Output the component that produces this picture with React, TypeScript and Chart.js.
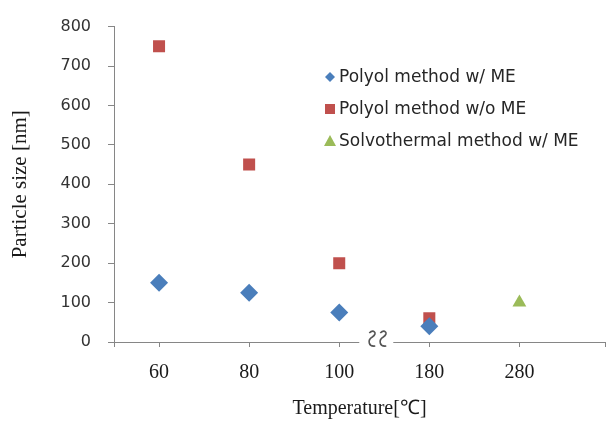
import React, { useEffect, useRef } from 'react';
import { Chart, registerables } from 'chart.js';

Chart.register(...registerables);

const categories = ['60', '80', '100', '180', '280'];
const seriesNames = ['Polyol method w/ ME', 'Polyol method w/o ME', 'Solvothermal method w/ ME'];
const polyolWithME: (number | null)[] = [150, 125, 75, 40, null];
const polyolWithoutME: (number | null)[] = [750, 450, 200, 60, null];
const solvothermalWithME: (number | null)[] = [null, null, null, null, 100];
const yMin = 0;
const yMax = 800;
const yStep = 100;

const colors = ['#4a7ebb', '#c0504d', '#9bbb59'];
const styles = ['rectRot', 'rect', 'triangle'];
const radii = [9, 8.5, 8];

const toPoints = (arr: (number | null)[]) =>
  arr.map((v, i) => (v == null ? null : { x: i, y: v })).filter(Boolean) as { x: number; y: number }[];

const breakPlugin = {
  id: 'axisBreak',
  afterDraw(chart: any) {
    const ctx = chart.ctx;
    const xs = chart.scales.x;
    const base = xs.getPixelForValue(2.5);
    const py = chart.chartArea.bottom;
    ctx.save();
    ctx.fillStyle = '#ffffff';
    ctx.fillRect(base - 25, py - 2, 34, 5);
    ctx.strokeStyle = '#555555';
    ctx.lineWidth = 1.6;
    [base - 12, base - 1].forEach((cx) => {
      ctx.beginPath();
      ctx.moveTo(cx - 3, py - 9);
      ctx.bezierCurveTo(cx + 1, py - 13, cx + 6, py - 9, cx, py - 5);
      ctx.bezierCurveTo(cx - 5, py - 2, cx - 4, py + 5, cx + 3, py + 4);
      ctx.stroke();
    });
    ctx.restore();
  },
};

const legendPlugin = {
  id: 'insideLegend',
  afterDraw(chart: any) {
    const ctx = chart.ctx;
    const rows = [77, 109, 141];
    ctx.save();
    chart.data.datasets.forEach((ds: any, i: number) => {
      const y = rows[i];
      ctx.fillStyle = ds.backgroundColor;
      ctx.beginPath();
      const mx = 330;
      if (i === 0) {
        ctx.moveTo(mx, y - 5);
        ctx.lineTo(mx + 5, y);
        ctx.lineTo(mx, y + 5);
        ctx.lineTo(mx - 5, y);
        ctx.closePath();
      } else if (i === 1) {
        ctx.rect(mx - 5, y - 5, 10, 10);
      } else {
        ctx.moveTo(mx, y - 6);
        ctx.lineTo(mx + 6, y + 5);
        ctx.lineTo(mx - 6, y + 5);
        ctx.closePath();
      }
      ctx.fill();
      ctx.fillStyle = '#262626';
      ctx.font = '17px "DejaVu Sans"';
      ctx.textBaseline = 'middle';
      ctx.textAlign = 'left';
      ctx.fillText(ds.label, 339, y + 1);
    });
    ctx.restore();
  },
};

export default function App() {
  const ref = useRef<HTMLCanvasElement>(null);
  useEffect(() => {
    const data = [polyolWithME, polyolWithoutME, solvothermalWithME];
    const chart = new Chart(ref.current as HTMLCanvasElement, {
      type: 'scatter',
      data: {
        datasets: data.map((arr, i) => ({
          label: seriesNames[i],
          data: toPoints(arr),
          backgroundColor: colors[i],
          borderColor: colors[i],
          pointStyle: styles[i] as any,
          pointRadius: radii[i],
          pointHoverRadius: radii[i],
          borderWidth: 0,
        })),
      },
      options: {
        animation: false,
        responsive: false,
        layout: { autoPadding: false, padding: { top: 19, right: 3, left: 0, bottom: 0 } },
        plugins: { legend: { display: false }, tooltip: { enabled: false } },
        scales: {
          x: {
            type: 'linear',
            min: -0.5,
            max: 4.95,
            afterBuildTicks: (scale: any) => {
              scale.ticks = [-0.5, 0, 1, 2, 3, 4, 4.95].map((v) => ({ value: v }));
            },
            afterFit: (scale: any) => {
              scale.height = 79;
              scale.paddingLeft = 0;
              scale.paddingRight = 0;
            },
            ticks: {
              autoSkip: false,
              maxRotation: 0,
              padding: 14,
              color: '#1a1a1a',
              font: { family: '"Liberation Serif"', size: 20 },
              callback: (value: any) => (categories[value as number] ?? ''),
            },
            grid: { drawOnChartArea: false, drawTicks: true, tickLength: 5, color: '#868686' },
            border: { color: '#868686', width: 1 },
            title: {
              display: true,
              text: 'Temperature[℃]',
              color: '#1a1a1a',
              font: { family: '"Liberation Serif"', size: 20 },
              padding: { top: 0, bottom: 0 },
            },
          },
          y: {
            min: yMin,
            max: yMax,
            afterFit: (scale: any) => {
              scale.width = 114;
            },
            ticks: {
              stepSize: yStep,
              padding: 17,
              color: '#333333',
              font: { family: '"DejaVu Sans"', size: 16 },
            },
            grid: { drawOnChartArea: false, drawTicks: true, tickLength: 6, color: '#868686' },
            border: { color: '#868686', width: 1 },
            title: {
              display: true,
              text: 'Particle size [nm]',
              color: '#1a1a1a',
              font: { family: '"Liberation Serif"', size: 21 },
              padding: { top: 8, bottom: 0 },
            },
          },
        },
      },
      plugins: [breakPlugin, legendPlugin],
    });
    return () => chart.destroy();
  }, []);
  return (
    <div style={{ position: 'absolute', left: 0, top: 0, width: 608, height: 421, background: '#fff' }}>
      <canvas ref={ref} width={608} height={421} />
    </div>
  );
}
